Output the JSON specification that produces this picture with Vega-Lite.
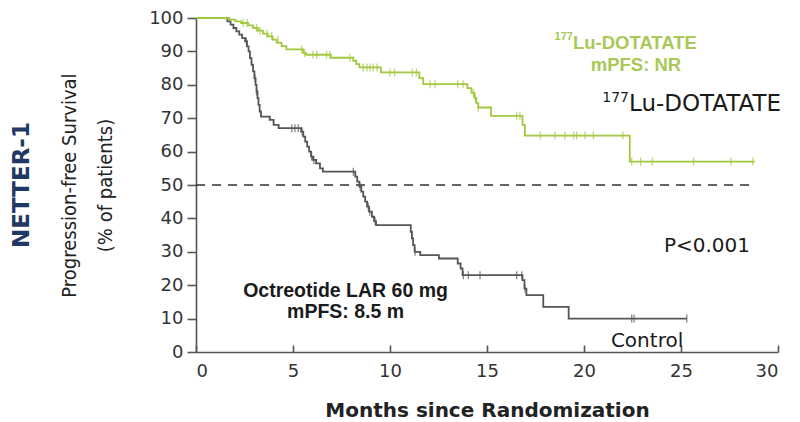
{
  "$schema": "https://vega.github.io/schema/vega-lite/v6.json",
  "width": 582,
  "height": 334,
  "autosize": {"type": "none"},
  "padding": {"left": 196, "top": 18, "right": 22, "bottom": 70},
  "background": "white",
  "config": {"view": {"stroke": null}, "font": "DejaVu Sans"},
  "title": {"text": "NETTER-1", "orient": "left", "anchor": "middle", "font": "DejaVu Sans", "fontSize": 23, "fontWeight": "bold", "color": "#1f3864", "offset": 26},
  "datasets": {
    "curve": [
      {"arm": "Control", "t": 0, "s": 100}, {"arm": "Control", "t": 1.62, "s": 99}, {"arm": "Control", "t": 1.78, "s": 98}, {"arm": "Control", "t": 1.93, "s": 97}, {"arm": "Control", "t": 2.08, "s": 96}, {"arm": "Control", "t": 2.23, "s": 95}, {"arm": "Control", "t": 2.38, "s": 94}, {"arm": "Control", "t": 2.53, "s": 93}, {"arm": "Control", "t": 2.63, "s": 91.5}, {"arm": "Control", "t": 2.71, "s": 90}, {"arm": "Control", "t": 2.78, "s": 88}, {"arm": "Control", "t": 2.86, "s": 86}, {"arm": "Control", "t": 2.94, "s": 84}, {"arm": "Control", "t": 3.01, "s": 82}, {"arm": "Control", "t": 3.07, "s": 80}, {"arm": "Control", "t": 3.12, "s": 78}, {"arm": "Control", "t": 3.17, "s": 76}, {"arm": "Control", "t": 3.22, "s": 74}, {"arm": "Control", "t": 3.28, "s": 72}, {"arm": "Control", "t": 3.35, "s": 70.5}, {"arm": "Control", "t": 3.8, "s": 69.5}, {"arm": "Control", "t": 4.0, "s": 68}, {"arm": "Control", "t": 4.26, "s": 67}, {"arm": "Control", "t": 5.42, "s": 66}, {"arm": "Control", "t": 5.53, "s": 64.5}, {"arm": "Control", "t": 5.63, "s": 63}, {"arm": "Control", "t": 5.73, "s": 61.5}, {"arm": "Control", "t": 5.83, "s": 60}, {"arm": "Control", "t": 5.93, "s": 58.5}, {"arm": "Control", "t": 6.03, "s": 57.5}, {"arm": "Control", "t": 6.19, "s": 56.5}, {"arm": "Control", "t": 6.39, "s": 55}, {"arm": "Control", "t": 6.54, "s": 54}, {"arm": "Control", "t": 8.21, "s": 52.5}, {"arm": "Control", "t": 8.31, "s": 51}, {"arm": "Control", "t": 8.42, "s": 49.5}, {"arm": "Control", "t": 8.52, "s": 48}, {"arm": "Control", "t": 8.62, "s": 46.5}, {"arm": "Control", "t": 8.72, "s": 45}, {"arm": "Control", "t": 8.82, "s": 43.5}, {"arm": "Control", "t": 8.92, "s": 42}, {"arm": "Control", "t": 9.07, "s": 40.5}, {"arm": "Control", "t": 9.18, "s": 39.2}, {"arm": "Control", "t": 9.28, "s": 38}, {"arm": "Control", "t": 11.07, "s": 36}, {"arm": "Control", "t": 11.13, "s": 34}, {"arm": "Control", "t": 11.19, "s": 32}, {"arm": "Control", "t": 11.27, "s": 30}, {"arm": "Control", "t": 11.56, "s": 29}, {"arm": "Control", "t": 12.52, "s": 28}, {"arm": "Control", "t": 13.49, "s": 26.5}, {"arm": "Control", "t": 13.64, "s": 25}, {"arm": "Control", "t": 13.74, "s": 23}, {"arm": "Control", "t": 16.83, "s": 21.5}, {"arm": "Control", "t": 16.93, "s": 19}, {"arm": "Control", "t": 17.03, "s": 17}, {"arm": "Control", "t": 17.9, "s": 13.5}, {"arm": "Control", "t": 19.21, "s": 10}, {"arm": "Control", "t": 25.3, "s": 10},
      {"arm": "Lu", "t": 0, "s": 100}, {"arm": "Lu", "t": 1.72, "s": 99.5}, {"arm": "Lu", "t": 2.03, "s": 99}, {"arm": "Lu", "t": 2.33, "s": 98.5}, {"arm": "Lu", "t": 2.69, "s": 97.8}, {"arm": "Lu", "t": 2.94, "s": 97}, {"arm": "Lu", "t": 3.19, "s": 96.2}, {"arm": "Lu", "t": 3.45, "s": 95.3}, {"arm": "Lu", "t": 3.7, "s": 94.5}, {"arm": "Lu", "t": 3.95, "s": 93.5}, {"arm": "Lu", "t": 4.16, "s": 92.6}, {"arm": "Lu", "t": 4.41, "s": 91.6}, {"arm": "Lu", "t": 4.66, "s": 90.6}, {"arm": "Lu", "t": 5.53, "s": 89.5}, {"arm": "Lu", "t": 5.68, "s": 89}, {"arm": "Lu", "t": 6.95, "s": 88.1}, {"arm": "Lu", "t": 8.11, "s": 87.2}, {"arm": "Lu", "t": 8.26, "s": 86.2}, {"arm": "Lu", "t": 8.42, "s": 85.2}, {"arm": "Lu", "t": 9.53, "s": 83.7}, {"arm": "Lu", "t": 11.51, "s": 82}, {"arm": "Lu", "t": 11.71, "s": 80.2}, {"arm": "Lu", "t": 13.99, "s": 79}, {"arm": "Lu", "t": 14.2, "s": 77.6}, {"arm": "Lu", "t": 14.35, "s": 76}, {"arm": "Lu", "t": 14.45, "s": 74.5}, {"arm": "Lu", "t": 14.55, "s": 73.2}, {"arm": "Lu", "t": 15.21, "s": 70.7}, {"arm": "Lu", "t": 16.83, "s": 68}, {"arm": "Lu", "t": 16.95, "s": 64.8}, {"arm": "Lu", "t": 22.36, "s": 57}, {"arm": "Lu", "t": 28.8, "s": 57}
    ],
    "censor": [
      {"arm": "Control", "t": 2.6, "s": 93}, {"arm": "Control", "t": 3.04, "s": 82}, {"arm": "Control", "t": 3.12, "s": 78}, {"arm": "Control", "t": 4.94, "s": 67}, {"arm": "Control", "t": 5.1, "s": 67}, {"arm": "Control", "t": 5.27, "s": 67}, {"arm": "Control", "t": 5.47, "s": 66}, {"arm": "Control", "t": 5.96, "s": 58.5}, {"arm": "Control", "t": 6.08, "s": 57.5}, {"arm": "Control", "t": 8.11, "s": 54}, {"arm": "Control", "t": 8.46, "s": 49.5}, {"arm": "Control", "t": 8.88, "s": 43.5}, {"arm": "Control", "t": 8.95, "s": 42}, {"arm": "Control", "t": 9.23, "s": 39.2}, {"arm": "Control", "t": 11.29, "s": 30}, {"arm": "Control", "t": 13.78, "s": 23}, {"arm": "Control", "t": 14.04, "s": 23}, {"arm": "Control", "t": 14.64, "s": 23}, {"arm": "Control", "t": 16.53, "s": 23}, {"arm": "Control", "t": 16.79, "s": 23}, {"arm": "Control", "t": 16.96, "s": 19}, {"arm": "Control", "t": 22.46, "s": 10}, {"arm": "Control", "t": 22.58, "s": 10}, {"arm": "Control", "t": 25.3, "s": 10},
      {"arm": "Lu", "t": 2.43, "s": 98.5}, {"arm": "Lu", "t": 2.64, "s": 98.5}, {"arm": "Lu", "t": 3.12, "s": 97}, {"arm": "Lu", "t": 3.3, "s": 96.2}, {"arm": "Lu", "t": 3.65, "s": 95.3}, {"arm": "Lu", "t": 3.9, "s": 94.5}, {"arm": "Lu", "t": 4.23, "s": 93.5}, {"arm": "Lu", "t": 5.45, "s": 90.6}, {"arm": "Lu", "t": 5.6, "s": 89.5}, {"arm": "Lu", "t": 6.03, "s": 89}, {"arm": "Lu", "t": 6.22, "s": 89}, {"arm": "Lu", "t": 6.73, "s": 89}, {"arm": "Lu", "t": 6.9, "s": 89}, {"arm": "Lu", "t": 7.94, "s": 88.1}, {"arm": "Lu", "t": 8.62, "s": 85.2}, {"arm": "Lu", "t": 8.82, "s": 85.2}, {"arm": "Lu", "t": 8.97, "s": 85.2}, {"arm": "Lu", "t": 9.13, "s": 85.2}, {"arm": "Lu", "t": 9.33, "s": 85.2}, {"arm": "Lu", "t": 10.0, "s": 83.7}, {"arm": "Lu", "t": 10.24, "s": 83.7}, {"arm": "Lu", "t": 11.15, "s": 83.7}, {"arm": "Lu", "t": 11.36, "s": 83.7}, {"arm": "Lu", "t": 12.07, "s": 80.2}, {"arm": "Lu", "t": 12.32, "s": 80.2}, {"arm": "Lu", "t": 13.49, "s": 80.2}, {"arm": "Lu", "t": 13.77, "s": 80.2}, {"arm": "Lu", "t": 14.3, "s": 77.6}, {"arm": "Lu", "t": 14.4, "s": 76}, {"arm": "Lu", "t": 14.55, "s": 73.2}, {"arm": "Lu", "t": 16.53, "s": 70.7}, {"arm": "Lu", "t": 16.7, "s": 70.7}, {"arm": "Lu", "t": 17.75, "s": 64.8}, {"arm": "Lu", "t": 18.5, "s": 64.8}, {"arm": "Lu", "t": 19.02, "s": 64.8}, {"arm": "Lu", "t": 19.47, "s": 64.8}, {"arm": "Lu", "t": 19.62, "s": 64.8}, {"arm": "Lu", "t": 20.06, "s": 64.8}, {"arm": "Lu", "t": 20.48, "s": 64.8}, {"arm": "Lu", "t": 22.0, "s": 64.8}, {"arm": "Lu", "t": 22.46, "s": 57}, {"arm": "Lu", "t": 22.92, "s": 57}, {"arm": "Lu", "t": 23.52, "s": 57}, {"arm": "Lu", "t": 25.65, "s": 57}, {"arm": "Lu", "t": 27.58, "s": 57}, {"arm": "Lu", "t": 28.7, "s": 57}
    ]
  },
  "encoding": {
    "x": {"field": "t", "type": "quantitative", "scale": {"domain": [0, 30], "nice": false, "zero": false},
      "axis": {"title": "Months since Randomization", "values": [0, 5, 10, 15, 20, 25, 30], "grid": false, "domainColor": "#555", "domainWidth": 1.6, "tickColor": "#555", "tickWidth": 1.6, "tickSize": -7, "labelPadding": 17, "labelFont": "DejaVu Sans", "labelFontSize": 18, "labelColor": "#333", "titleFont": "DejaVu Sans", "titleFontSize": 20, "titleFontWeight": "bold", "titleColor": "#222", "titlePadding": 20}},
    "y": {"field": "s", "type": "quantitative", "scale": {"domain": [0, 100], "nice": false},
      "axis": {"title": ["Progression-free Survival", "(% of patients)"], "values": [0, 10, 20, 30, 40, 50, 60, 70, 80, 90, 100], "grid": false, "domainColor": "#555", "domainWidth": 1.6, "tickColor": "#555", "tickWidth": 1.6, "tickSize": 9, "labelPadding": 4, "labelFont": "DejaVu Sans", "labelFontSize": 18, "labelColor": "#333", "titleFont": "DejaVu Sans Condensed, Liberation Sans", "titleFontSize": 20, "titleFontWeight": "normal", "titleColor": "#222", "titleLineHeight": 36, "titlePadding": 33}}
  },
  "layer": [
    {
      "data": {"values": [{"t": 0, "t2": 28.8, "s": 50}]},
      "mark": {"type": "rule", "color": "#333", "strokeWidth": 1.6, "strokeDash": [9, 7]},
      "encoding": {"x2": {"field": "t2"}}
    },
    {
      "data": {"name": "curve"},
      "mark": {"type": "line", "interpolate": "step-after", "strokeWidth": 1.8},
      "encoding": {"color": {"field": "arm", "type": "nominal", "scale": {"domain": ["Lu", "Control"], "range": ["#a2c83e", "#555555"]}, "legend": null}}
    },
    {
      "data": {"name": "censor"},
      "mark": {"type": "tick", "orient": "vertical", "size": 8, "thickness": 1.3},
      "encoding": {"color": {"field": "arm", "type": "nominal", "legend": null}}
    },
    {
      "data": {"values": [{"t": 19.43, "s": 90.7, "label": "Lu-DOTATATE"}]},
      "mark": {"type": "text", "align": "left", "baseline": "alphabetic", "font": "Liberation Sans", "fontWeight": "bold", "fontSize": 18.5, "color": "#a8c858"},
      "encoding": {"text": {"field": "label"}}
    },
    {
      "data": {"values": [{"t": 19.43, "s": 93.3, "label": "177"}]},
      "mark": {"type": "text", "align": "right", "baseline": "alphabetic", "font": "Liberation Sans", "fontWeight": "bold", "fontSize": 11, "color": "#a8c858"},
      "encoding": {"text": {"field": "label"}}
    },
    {
      "data": {"values": [{"t": 22.68, "s": 84.2, "label": "mPFS: NR"}]},
      "mark": {"type": "text", "align": "center", "baseline": "alphabetic", "font": "Liberation Sans", "fontWeight": "bold", "fontSize": 18.5, "color": "#a8c858"},
      "encoding": {"text": {"field": "label"}}
    },
    {
      "data": {"values": [{"t": 22.32, "s": 72.2, "label": "Lu-DOTATATE"}]},
      "mark": {"type": "text", "align": "left", "baseline": "alphabetic", "font": "DejaVu Sans", "fontSize": 23, "color": "#1a1a1a"},
      "encoding": {"text": {"field": "label"}}
    },
    {
      "data": {"values": [{"t": 22.32, "s": 74.8, "label": "177"}]},
      "mark": {"type": "text", "align": "right", "baseline": "alphabetic", "font": "DejaVu Sans", "fontSize": 14, "color": "#1a1a1a"},
      "encoding": {"text": {"field": "label"}}
    },
    {
      "data": {"values": [{"t": 26.34, "s": 29.9, "label": "P<0.001"}, {"t": 23.25, "s": 1.5, "label": "Control"}]},
      "mark": {"type": "text", "align": "center", "baseline": "alphabetic", "font": "DejaVu Sans", "fontSize": 20, "color": "#1a1a1a"},
      "encoding": {"text": {"field": "label"}}
    },
    {
      "data": {"values": [{"t": 7.71, "s": 16.4, "label": "Octreotide LAR 60 mg"}, {"t": 7.71, "s": 10.1, "label": "mPFS: 8.5 m"}]},
      "mark": {"type": "text", "align": "center", "baseline": "alphabetic", "font": "Liberation Sans", "fontWeight": "bold", "fontSize": 19.5, "color": "#1a1a1a"},
      "encoding": {"text": {"field": "label"}}
    }
  ]
}
